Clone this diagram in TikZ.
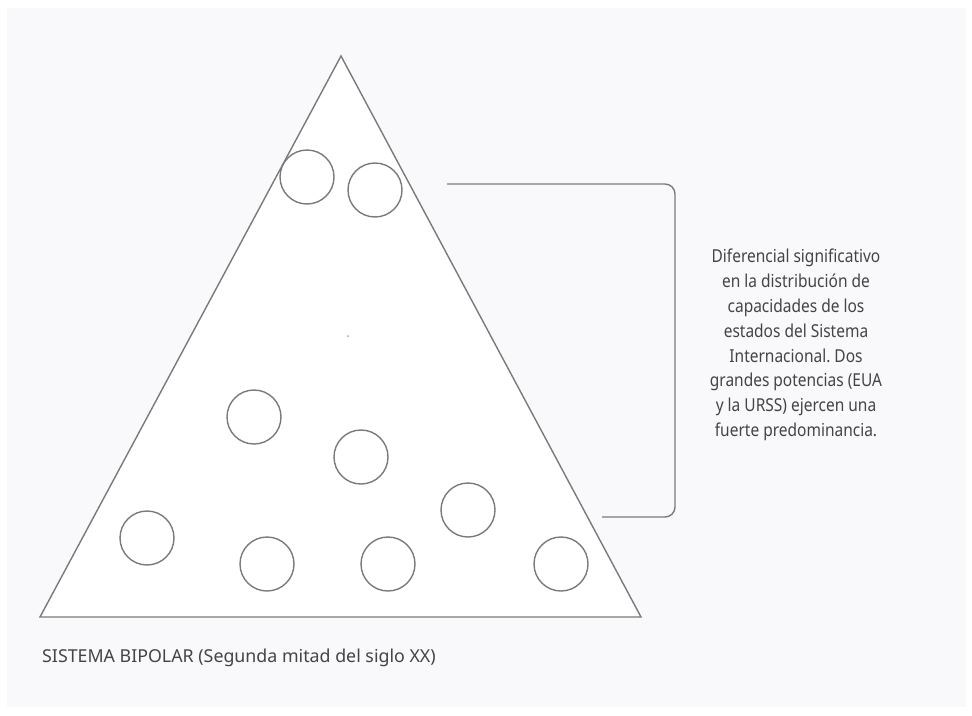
\documentclass[tikz,border=0pt]{standalone}
\usepackage{fontspec}
\setmainfont{Noto Sans}
\newfontfamily\narrowsans[FakeStretch=0.87]{Noto Sans}
\frenchspacing
\definecolor{pagebg}{HTML}{F9F9FB}
\definecolor{linegray}{HTML}{7A7A7A}
\definecolor{textgray}{HTML}{444444}
\begin{document}
\begin{tikzpicture}[x=1pt,y=-1pt,
  outline/.style={draw=linegray,line width=1.4pt},
  actor/.style={circle,outline,fill=white,minimum size=54pt,inner sep=0pt},
  label/.style={text=textgray,font=\fontsize{17.8}{24.85}\selectfont,align=center,inner sep=0pt},
  note/.style={label,font=\narrowsans\fontsize{17.8}{24.85}\selectfont}]
  % canvas
  \useasboundingbox (0,0) rectangle (972,715);
  \fill[pagebg] (7,8) rectangle (966,707);
  % pyramid of the international system
  \coordinate (apex) at (341,56);
  \coordinate (bl) at (40,617);
  \coordinate (br) at (641,617);
  \filldraw[outline,fill=white,line join=miter] (apex) -- (br) -- (bl) -- cycle;
  % states
  \node[actor] (s1) at (307,177) {};
  \node[actor] (s2) at (375,190) {};
  \node[actor] (s3) at (254,417) {};
  \node[actor] (s4) at (361,457) {};
  \node[actor] (s5) at (468,510) {};
  \node[actor] (s6) at (147,538) {};
  \node[actor] (s7) at (267,564) {};
  \node[actor] (s8) at (388,564) {};
  \node[actor] (s9) at (561,564) {};
  \fill[linegray!70] (348,336) circle (1pt);
  % bracket
  \coordinate (btop) at (447,184);
  \coordinate (bbot) at (602,517);
  \draw[outline,rounded corners=10pt] (btop) -- (675,184) -- (675,517) -- (bbot);
  % labels
  \node[note] (desc) at (796,345) {Diferencial significativo\\en la distribución de\\capacidades de los\\estados del Sistema\\Internacional. Dos\\grandes potencias (EUA\\y la URSS) ejercen una\\fuerte predominancia.};
  \node[label,anchor=west] (title) at (42,658) {SISTEMA BIPOLAR (Segunda mitad del siglo XX)};
\end{tikzpicture}
\end{document}
